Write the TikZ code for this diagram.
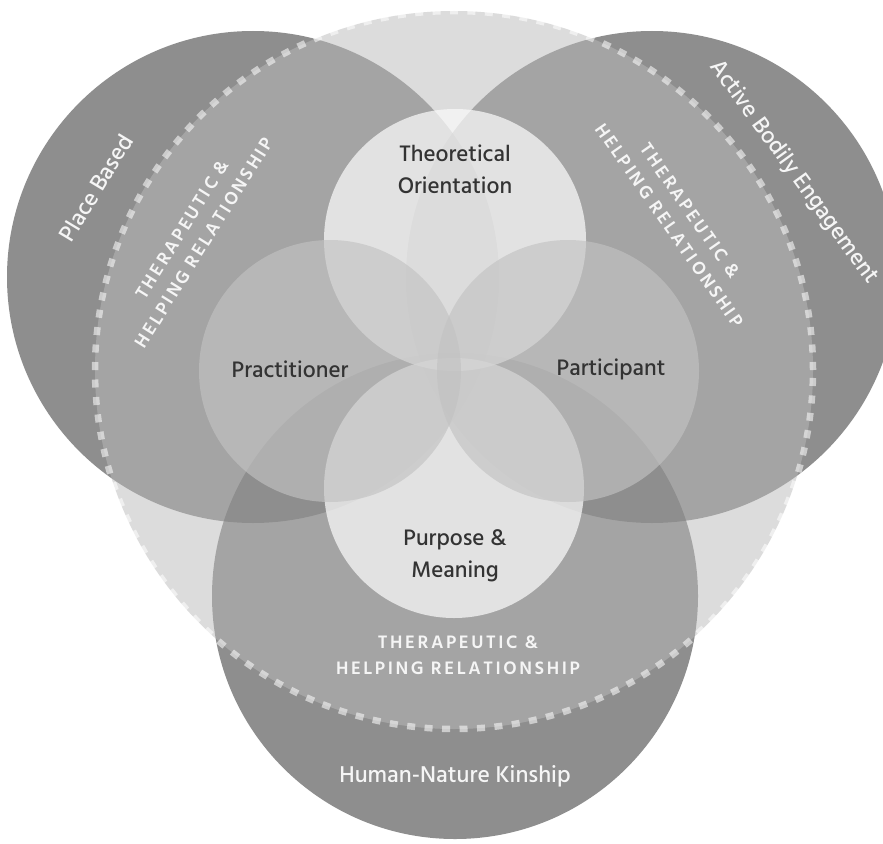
\documentclass[tikz,border=0pt]{standalone}
\usepackage{fontspec}
\setmainfont{Hind Madurai Medium}
\newfontfamily\capsfont[LetterSpace=14]{Hind Madurai SemiBold}
\definecolor{darkcol}{gray}{0.263}
\definecolor{bigcol}{gray}{0.733}
\definecolor{lightcol}{gray}{0.98}
\definecolor{midcol}{gray}{0.76}
\definecolor{innertext}{gray}{0.2}
\definecolor{outertext}{gray}{0.96}
\begin{document}
\begin{tikzpicture}[x=1pt,y=-1pt,
  darkcircle/.style={fill=darkcol, fill opacity=0.6},
  bigcircle/.style={fill=bigcol, fill opacity=0.51},
  lightcircle/.style={fill=lightcol, fill opacity=0.73},
  midcircle/.style={fill=midcol, fill opacity=0.65},
  dashring/.style={draw=white, draw opacity=0.55, line width=6.5pt, dash pattern=on 8pt off 9.5pt},
  innerlabel/.style={text=innertext, font=\fontsize{23}{32}\selectfont, align=center, inner sep=0pt},
  outerlabel/.style={text=outertext, font=\fontsize{23.5}{30}\selectfont, align=center, inner sep=0pt},
  capslabel/.style={text=outertext, font=\capsfont\fontsize{18.5}{25.5}\selectfont, align=center, inner sep=0pt}
]
\useasboundingbox (0,0) rectangle (883,843);
\fill[white] (0,0) rectangle (883,843);
% outer dark circles
\fill[darkcircle] (253,277) circle (246pt);
\fill[darkcircle] (652,277) circle (246pt);
\fill[darkcircle] (455,596) circle (243pt);
% big light circle
\fill[bigcircle] (454,370) circle (359pt);
\draw[dashring] (454,370) circle (359pt);
% inner circles
\fill[lightcircle] (455,240) circle (131pt);
\fill[lightcircle] (454,488) circle (130pt);
\fill[midcircle] (330,371) circle (131pt);
\fill[midcircle] (568,371) circle (131pt);
% labels
\node[innerlabel] (theo) at (455,169) {Theoretical\\Orientation};
\node[innerlabel] (prac) at (290,369) {Practitioner};
\node[innerlabel] (part) at (611,369) {Participant};
\node[innerlabel] (purp) at (455,556) {Purpose \&\\Meaning};
\node[outerlabel, rotate=59] (place) at (96,188) {Place Based};
\node[outerlabel, rotate=-54] (active) at (794,172) {Active Bodily Engagement};
\node[outerlabel] (human) at (455,776) {Human-Nature Kinship};
\node[capslabel, rotate=58] (thl) at (193,236) {THERAPEUTIC \&\\HELPING RELATIONSHIP};
\node[capslabel, rotate=-55] (thr) at (680,218) {THERAPEUTIC \&\\HELPING RELATIONSHIP};
\node[capslabel] (thb) at (458,655) {THERAPEUTIC \&\\HELPING RELATIONSHIP};
\end{tikzpicture}
\end{document}
